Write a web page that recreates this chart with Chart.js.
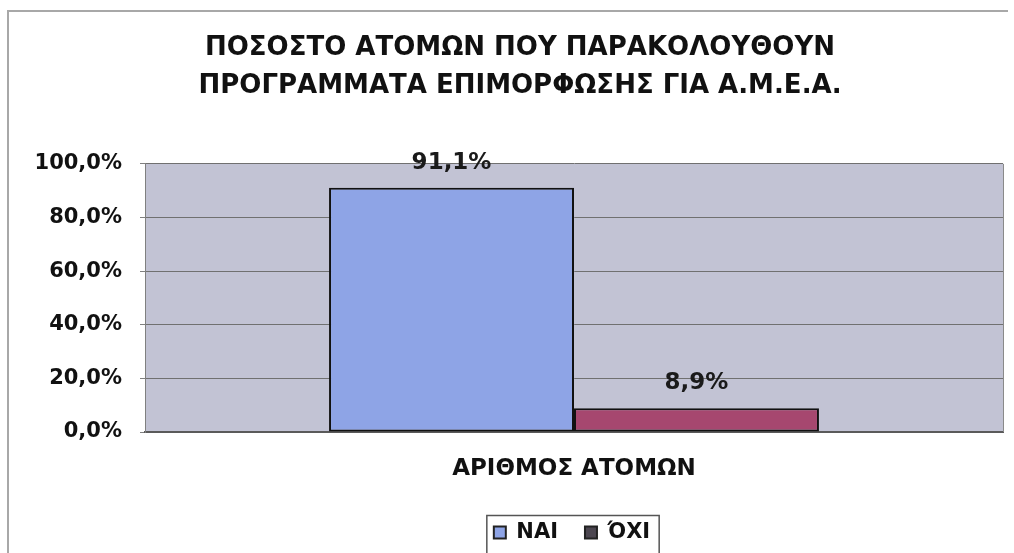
<!DOCTYPE html>
<html><head><meta charset="utf-8">
<script src="https://cdn.jsdelivr.net/npm/chart.js@4.4.1/dist/chart.umd.min.js"></script>
<style>html,body{margin:0;padding:0;background:#fff}#wrap{width:1014px;height:553px}</style>
</head><body><div id="wrap"><canvas id="c" width="1014" height="553"></canvas></div>
<script>
const titleLines = ['ΠΟΣΟΣΤΟ ΑΤΟΜΩΝ ΠΟΥ ΠΑΡΑΚΟΛΟΥΘΟΥΝ', 'ΠΡΟΓΡΑΜΜΑΤΑ ΕΠΙΜΟΡΦΩΣΗΣ ΓΙΑ Α.Μ.Ε.Α.'];
const categories = ['ΑΡΙΘΜΟΣ ΑΤΟΜΩΝ'];
const seriesNames = ['ΝΑΙ', 'ΌΧΙ'];
const naiValues = [91.1];
const oxiValues = [8.9];
const yTickValues = [0, 20, 40, 60, 80, 100];

const FONT = "'DejaVu Sans', 'Liberation Sans', Arial, sans-serif";
const fmt = v => v.toFixed(1).replace('.', ',') + '%';

const shiftBlocks = {
  id: 'shiftBlocks',
  afterLayout(chart) {
    const t = chart.titleBlock;
    if (t) { const d = 520 - (t.left + t.right) / 2; t.left += d; t.right += d; }
    const lg = chart.legend;
    if (lg) { const d = 572 - (lg.left + lg.right) / 2; lg.left += d; lg.right += d; }
  }
};

const plotBg = {
  id: 'plotBg',
  beforeDraw(chart) {
    const {ctx, chartArea: a} = chart;
    ctx.save();
    ctx.fillStyle = '#c2c3d4';
    ctx.fillRect(a.left, a.top, a.right - a.left, a.bottom - a.top);
    ctx.restore();
  },
  afterDraw(chart) {
    const {ctx, chartArea: a} = chart;
    ctx.save();
    ctx.strokeStyle = '#8a8a8a';
    ctx.lineWidth = 1;
    ctx.beginPath();
    ctx.moveTo(a.right + 0.5, a.top);
    ctx.lineTo(a.right + 0.5, a.bottom);
    ctx.stroke();
    // outer chart border (top and left)
    ctx.strokeStyle = '#a8a8a8';
    ctx.lineWidth = 2;
    ctx.beginPath();
    ctx.moveTo(8, 553);
    ctx.lineTo(8, 11);
    ctx.lineTo(1008, 11);
    ctx.stroke();
    // legend border
    const lg = chart.legend;
    if (lg && lg.legendHitBoxes && lg.legendHitBoxes.length) {
      const hb = lg.legendHitBoxes;
      const last = hb[hb.length - 1];
      const l = hb[0].left - 7, r = last.left + last.width + 9;
      const t = hb[0].top + hb[0].height / 2 - 17;
      ctx.strokeStyle = '#555';
      ctx.lineWidth = 1.5;
      ctx.beginPath();
      ctx.moveTo(l, 560); ctx.lineTo(l, t); ctx.lineTo(r, t); ctx.lineTo(r, 560);
      ctx.stroke();
    }
    ctx.restore();
  }
};

const valueLabels = {
  id: 'valueLabels',
  afterDatasetsDraw(chart) {
    const {ctx} = chart;
    ctx.save();
    ctx.font = 'bold 23px ' + FONT;
    ctx.fillStyle = '#1a1a1a';
    ctx.textAlign = 'center';
    ctx.textBaseline = 'alphabetic';
    chart.data.datasets.forEach((ds, i) => {
      chart.getDatasetMeta(i).data.forEach((bar, j) => {
        ctx.fillText(fmt(ds.data[j]), bar.x, bar.y - 19);
      });
    });
    ctx.restore();
  }
};

new Chart(document.getElementById('c'), {
  type: 'bar',
  data: {
    labels: categories,
    datasets: [
      {label: seriesNames[0], data: naiValues, backgroundColor: '#8ea4e6', borderColor: '#111', borderWidth: 2, borderSkipped: false},
      {label: seriesNames[1], data: oxiValues, backgroundColor: '#a6476f', borderColor: '#111', borderWidth: 2, borderSkipped: false}
    ]
  },
  options: {
    responsive: false,
    animation: false,
    devicePixelRatio: 1,
    layout: {padding: {left: 0, right: 11, top: 0, bottom: 0}},
    datasets: {bar: {barPercentage: 1, categoryPercentage: 0.571}},
    plugins: {
      title: {
        display: true, text: titleLines, color: '#111',
        font: {family: FONT, size: 26, weight: 'bold', lineHeight: 1.44},
        padding: {top: 30, bottom: 59}
      },
      legend: {
        display: true, position: 'bottom',
        labels: {
          color: '#111', font: {family: FONT, size: 21, weight: 'bold'},
          boxWidth: 12, boxHeight: 12, padding: 27,
          generateLabels(chart) {
            const fills = ['#8ea4e6', '#4c4650'];
            return chart.data.datasets.map((ds, i) => ({
              text: ds.label, fillStyle: fills[i], strokeStyle: '#222', lineWidth: 2,
              datasetIndex: i, hidden: false, fontColor: '#111'
            }));
          }
        }
      },
      tooltip: {enabled: false}
    },
    scales: {
      x: {
        grid: {display: false, drawTicks: false},
        border: {display: true, color: '#5a5a5a', width: 2},
        ticks: {color: '#111', font: {family: FONT, size: 23, weight: 'bold'}, padding: 23},
        afterFit(s) { s.height = 63; }
      },
      y: {
        min: 0, max: 100,
        afterBuildTicks(s) { s.ticks = yTickValues.map(v => ({value: v})); },
        ticks: {color: '#111', font: {family: FONT, size: 21, weight: 'bold'}, padding: 18, callback: v => fmt(v)},
        grid: {color: '#707070', lineWidth: 1, tickLength: 5, tickColor: '#808080'},
        border: {display: true, color: '#808080', width: 1},
        afterFit(s) { s.width = 145; }
      }
    }
  },
  plugins: [shiftBlocks, plotBg, valueLabels]
});
</script>
</body></html>
